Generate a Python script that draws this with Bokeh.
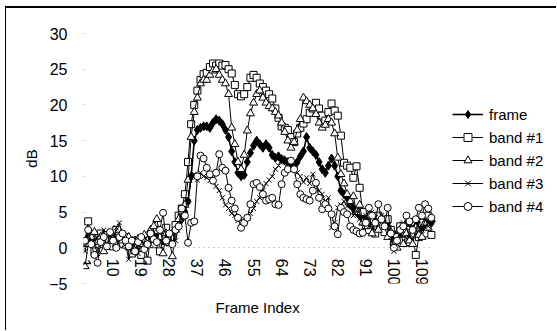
from bokeh.plotting import figure
from bokeh.models import FixedTicker, Legend, LegendItem, Title, LinearAxis, ColumnDataSource
from bokeh.embed import file_html
from bokeh.resources import INLINE

frames = list(range(1, 113))

frame = [0.5, 1.5, 0.8, 0.2, 1.0, 1.8, 1.2, 0.5, 1.5, 1.0,
         1.8, 2.2, 1.5, 0.8, 0.2, 0.5, 1.0, 0.3, 0.6, 0.9,
         0.4, 1.2, 1.8, 2.0, 1.5, 1.0, 1.6, 1.2, 2.0, 2.8,
         3.5, 4.0, 5.0, 6.5, 10.0, 15.0, 16.5, 16.8, 17.0, 17.0,
         16.8, 17.5, 18.0, 17.8, 17.3, 16.5, 15.5, 13.5, 12.0, 10.5,
         10.0, 10.2, 12.0, 13.3, 14.3, 15.0, 14.5, 14.0, 14.5, 14.0,
         13.0, 12.6, 12.8, 12.4, 12.2, 12.0, 11.5, 11.2, 12.0, 12.8,
         13.5, 15.5, 14.0, 13.5, 13.0, 12.0, 11.0, 10.5, 11.5, 12.5,
         11.5, 10.0, 8.0, 7.5, 7.0, 6.0, 5.5, 5.0, 4.5, 4.0,
         4.2, 3.8, 4.5, 4.0, 3.5, 4.2, 3.8, 3.5, 2.5, 1.5,
         2.0, 3.0, 2.8, 3.2, 3.5, 2.5, 3.0, 3.5, 2.8, 3.2,
         3.8, 3.5]

band1 = [0.8, 3.7, 1.5, -0.5, 0.5, 2.0, 0.5, 1.8, 1.0, 0.2,
         2.5, 1.8, 0.5, 1.5, 0.2, -0.8, 1.0, 0.5, -1.0, 0.8,
         -1.8, 1.5, 0.5, 2.5, -0.5, 1.5, 2.8, 0.8, 1.5, 3.2,
         4.5, 5.5, 7.5, 12.0, 17.3, 20.0, 22.0, 23.5, 24.3, 24.5,
         25.3, 25.8, 25.5, 25.8, 25.5, 25.6, 25.0, 24.4, 22.8, 21.5,
         21.2, 21.5, 22.5, 23.8, 24.2, 23.8, 23.0, 22.5, 22.0, 21.5,
         20.9, 19.5, 18.2, 17.0, 16.8, 16.5, 15.5, 14.8, 16.0, 16.8,
         17.4, 18.0, 18.9, 19.5, 20.3, 19.5, 18.5, 17.8, 19.0, 20.2,
         19.2, 18.5, 15.7, 11.9, 11.5, 11.2, 9.8, 11.4, 8.4, 5.0,
         3.5, 2.5, 4.0, 2.0, 4.5, 3.0, 2.2, 4.0, 2.5, 0.5,
         1.5, 3.0, 1.0, 2.5, 0.8, 2.0, -1.0, 1.5, 3.5, 2.0,
         4.5, 1.8]

band2 = [-2.6, 0.5, 1.5, 2.2, 0.8, 1.5, -0.5, 1.0, 2.0, 1.2,
         0.5, 2.5, 1.0, 0.3, 1.5, 0.8, -0.5, 1.2, 0.5, 1.8,
         1.0, 2.5, 3.0, 4.0, 1.5, -0.8, 2.0, 1.0, -1.2, 2.5,
         4.0, 5.0, 6.0, 9.5, 15.5, 19.0, 21.0, 23.0, 23.5, 23.5,
         24.2, 24.8, 25.0, 24.2, 23.5, 23.0, 21.5, 16.8, 14.5, 12.0,
         11.0, 13.0, 16.4, 18.8, 20.3, 21.5, 22.0, 21.0, 20.3, 19.8,
         19.5, 19.0, 18.5, 17.5, 16.2, 15.0, 14.0, 14.8, 16.5, 18.0,
         21.0, 20.5, 20.0, 19.5, 18.7, 17.5, 16.8, 17.2, 18.0, 17.5,
         16.0, 12.6, 10.3, 9.0, 7.5, 6.5, 7.2, 5.0, 6.0, 3.5,
         3.0, 4.5, 2.0, 3.5, 2.5, 4.0, 3.0, 1.5, 2.2, 0.8,
         0.0, 2.5, 0.5, 2.0, 1.0, 0.5, 2.8, 1.8, 1.5, 3.5,
         2.8, 4.0]

band3 = [-0.5, 2.0, 1.0, 0.5, -0.8, 1.5, 2.5, 0.0, 1.8, 1.2,
         2.8, 3.5, 1.5, 0.5, -1.6, 0.5, 1.2, -0.8, 1.5, 0.2,
         1.0, 0.5, 2.2, 1.0, 2.5, 0.8, 1.5, 0.5, 2.0, 1.0,
         3.0, 4.5, 5.5, 6.5, 9.8, 10.3, 9.5, 10.5, 10.0, 9.8,
         9.4, 9.4, 8.6, 8.0, 7.0, 6.0, 5.5, 4.8, 4.5, 3.8,
         4.0, 3.5, 4.2, 4.8, 5.5, 6.5, 7.0, 8.0, 9.0, 9.5,
         10.0, 11.0, 11.5, 12.6, 12.0, 11.8, 11.7, 11.0, 10.5, 10.0,
         9.2, 9.8, 9.0, 10.3, 9.0, 8.0, 7.5, 6.5, 7.0, 2.8,
         3.5, 5.6, 6.0, 6.5, 5.8, 6.0, 4.5, 5.2, 4.0, 3.5,
         4.5, 3.0, 5.0, 4.2, 3.8, 4.5, 3.5, 3.0, 1.5, -0.5,
         0.5, 2.0, 3.5, 2.8, 1.5, 3.0, 2.5, 3.8, 2.5, 4.0,
         3.0, 3.5]

band4 = [1.0, 2.5, 0.5, -1.0, -2.1, 0.8, 1.5, 0.2, 2.2, 1.0,
         0.0, 1.5, 2.0, 1.0, 0.2, 1.0, -0.5, 0.8, 1.5, -0.2,
         0.5, 2.0, 1.2, 0.8, 2.5, 4.9, 1.0, 2.0, 0.5, 2.5,
         3.0, 5.5, 4.5, 0.7, 3.5, 3.7, 10.0, 12.9, 12.5, 11.2,
         10.3, 9.4, 10.5, 13.1, 11.2, 10.8, 8.4, 6.6, 5.5, 4.2,
         2.8, 3.5, 4.2, 6.1, 8.9, 9.1, 8.5, 7.5, 6.6, 6.8,
         7.0, 6.1, 6.0, 8.9, 10.5, 11.0, 12.2, 11.0, 8.9, 7.5,
         7.0, 6.8, 6.6, 8.0, 9.1, 7.0, 5.4, 6.1, 5.5, 4.7,
         3.0, 1.9, 5.6, 5.0, 4.7, 3.0, 2.5, 2.3, 2.0, 2.1,
         3.5, 5.6, 4.5, 3.5, 6.1, 4.0, 3.0, 5.6, 2.0, 0.0,
         1.0, 2.5, 3.0, 4.5, 3.7, 2.5, 4.0, 5.6, 4.5, 6.1,
         5.5, 4.2]

series_names = ["frame", "band #1", "band #2", "band #3", "band #4"]
x_ticks = [1, 10, 19, 28, 37, 46, 55, 64, 73, 82, 91, 100, 109]
y_ticks = [-5, 0, 5, 10, 15, 20, 25, 30]

W, H = 556, 330
FONT = "Liberation Sans"
PX_PER_FRAME = 3.12
BL, BR = 83, 3
x_end = 0.5 + (W - BL - BR) / PX_PER_FRAME   # frame also hosts the legend area

p = figure(width=W, height=H, x_range=(0.5, x_end), y_range=(-5, 30),
           output_backend="svg", toolbar_location=None, x_axis_location=None,
           min_border_left=BL, min_border_right=BR, min_border_top=33, min_border_bottom=47)
# chart-area border (left and top edges) painted behind a transparent canvas
p.styles = {"background": "linear-gradient(#000, #000) 5px 7px / 1px 100% no-repeat, "
                          "linear-gradient(#000, #000) 5px 6px / 100% 2px no-repeat, white"}
p.xgrid.visible = False
p.ygrid.visible = False
p.outline_line_color = None
p.background_fill_color = None
p.border_fill_color = None

# y axis
ya = p.yaxis[0]
ya.ticker = FixedTicker(ticks=y_ticks)
ya.axis_line_color = None
ya.major_tick_in = 2
ya.major_tick_out = 0
ya.major_tick_line_color = "#c8c8c8"
ya.minor_tick_line_color = None
ya.major_label_text_font = FONT
ya.major_label_text_font_size = "16px"
ya.major_label_text_color = "black"
ya.major_label_standoff = 16
ya.axis_label = "dB"
ya.axis_label_text_font = FONT
ya.axis_label_text_font_style = "normal"
ya.axis_label_text_font_size = "15px"
ya.axis_label_text_color = "black"
ya.axis_label_standoff = 6

# x axis crossing at 0
xa = LinearAxis(fixed_location=0, ticker=FixedTicker(ticks=x_ticks), bounds=(0.5, 112.5))
xa.axis_line_color = "#9a9a9a"
xa.axis_line_dash = "1 4"
xa.major_tick_in = 0
xa.major_tick_out = 0
xa.minor_tick_line_color = None
xa.major_label_orientation = "vertical"
xa.major_label_text_font = FONT
xa.major_label_text_font_size = "16px"
xa.major_label_text_color = "black"
xa.major_label_standoff = 11
p.add_layout(xa, "below")

src = ColumnDataSource(dict(x=frames, frame=frame, band1=band1, band2=band2, band3=band3, band4=band4))

styles = [
    ("frame", "diamond", 9, "black", 1.6),
    ("band1", "square", 7, "white", 1.0),
    ("band2", "triangle", 8, "white", 1.0),
    ("band3", "x", 7, "white", 1.0),
    ("band4", "circle", 7, "white", 1.0),
]

items = []
for (col, marker, size, fill, lw), name in zip(styles, series_names):
    lr = p.line("x", col, source=src, line_color="black", line_width=lw)
    sr = p.scatter("x", col, source=src, marker=marker, size=size,
                   line_color="black", fill_color=fill, line_width=1)
    items.append(LegendItem(label=name, renderers=[lr, sr]))

legend = Legend(items=items, location=(369, 67))
legend.border_line_color = None
legend.background_fill_alpha = 0
legend.padding = 0
legend.margin = 0
legend.spacing = 3
legend.glyph_width = 31
legend.glyph_height = 20
legend.label_height = 20
legend.label_standoff = 6
legend.label_text_font = FONT
legend.label_text_font_size = "15px"
legend.label_text_color = "black"
p.add_layout(legend, "center")

p.add_layout(Title(text="Frame Index", align="left", offset=132, text_font=FONT,
                   text_font_size="15px", text_font_style="normal",
                   text_color="black", standoff=26), "below")

open("out.html", "w").write(file_html(p, INLINE))
